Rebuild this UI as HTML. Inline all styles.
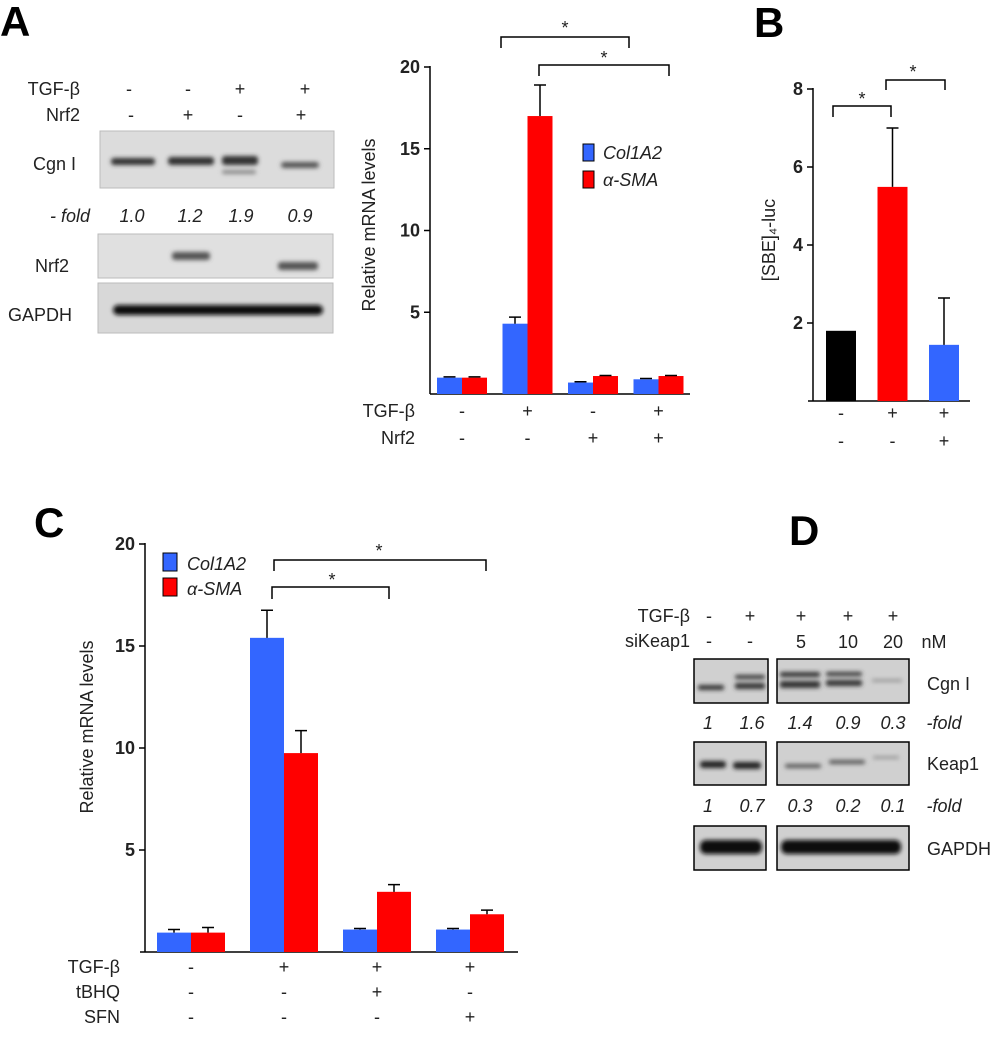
<!DOCTYPE html>
<html><head><meta charset="utf-8"><style>
html,body{margin:0;padding:0;background:#fff}
svg{display:block;font-family:"Liberation Sans",sans-serif}
.t{font-size:18px;fill:#222}
.tk{font-size:18px;font-weight:bold;fill:#222}
.pl{font-size:42px;font-weight:bold;fill:#000}
.it{font-style:italic}
</style></head><body>
<svg id="fig" width="999" height="1050" viewBox="0 0 999 1050">
<defs>
<filter id="bl" x="-20%" y="-50%" width="140%" height="200%"><feGaussianBlur stdDeviation="2"/></filter>
</defs>
<text class="pl" x="0" y="36">A</text>
<text class="pl" x="754" y="37">B</text>
<text class="pl" x="34" y="537">C</text>
<text class="pl" x="789" y="545">D</text>

<g>
<text class="t" x="80" y="95" text-anchor="end" font-size="19">TGF-β</text>
<text class="t" x="80" y="121" text-anchor="end" font-size="19">Nrf2</text>
<g class="t" font-size="19" text-anchor="middle">
<text x="129" y="95">-</text><text x="188" y="95">-</text><text x="240" y="95">+</text><text x="305" y="95">+</text>
<text x="131" y="121">-</text><text x="188" y="121">+</text><text x="240" y="121">-</text><text x="301" y="121">+</text>
</g>
<rect x="100" y="131" width="234" height="57" fill="#dcdcdc" stroke="#bbb"/>
<g filter="url(#bl)" fill="#333">
<rect x="111" y="158" width="44" height="7" rx="3"/>
<rect x="168" y="157" width="46" height="8" rx="3"/>
<rect x="222" y="156" width="36" height="9" rx="3"/>
<rect x="281" y="162" width="38" height="6" rx="3" fill="#555"/>
<rect x="222" y="170" width="34" height="4" rx="2" fill="#888"/>
</g>
<text class="t" x="33" y="170" font-size="20">Cgn I</text>
<g class="t it" font-size="18" text-anchor="middle">
<text x="70" y="222">- fold</text><text x="132" y="222">1.0</text><text x="190" y="222">1.2</text><text x="241" y="222">1.9</text><text x="300" y="222">0.9</text>
</g>
<rect x="98" y="234" width="235" height="44" fill="#e0e0e0" stroke="#bbb"/>
<g filter="url(#bl)" fill="#555">
<rect x="172" y="252" width="38" height="8" rx="3"/>
<rect x="278" y="262" width="40" height="8" rx="3"/>
</g>
<text class="t" x="35" y="272" font-size="20">Nrf2</text>
<rect x="98" y="283" width="235" height="50" fill="#d8d8d8" stroke="#bbb"/>
<rect x="113" y="305" width="210" height="10" rx="5" fill="#111" filter="url(#bl)"/>
<text class="t" x="8" y="321" font-size="20">GAPDH</text>
</g>

<g id="chartA">
<line x1="430" y1="66" x2="430" y2="394" stroke="#000" stroke-width="1.5"/>
<line x1="430" y1="394" x2="690" y2="394" stroke="#000" stroke-width="1.5"/>
<text class="t" transform="translate(375,225) rotate(-90)" text-anchor="middle" font-size="19">Relative mRNA levels</text>
<text class="t" x="415" y="417" text-anchor="end" font-size="19">TGF-β</text>
<text class="t" x="415" y="444" text-anchor="end" font-size="19">Nrf2</text>
<g>
<rect x="583" y="144" width="11" height="17" fill="#3366ff" stroke="#000"/>
<text class="t it" x="603" y="159" font-size="19">Col1A2</text>
<rect x="583" y="171" width="11" height="17" fill="#ff0000" stroke="#000"/>
<text class="t it" x="603" y="186" font-size="19">α-SMA</text>
</g>
<g stroke="#000" stroke-width="1.5" fill="none">
<path d="M501 48V37H629V48"/><path d="M539 76V65H669V76"/>
</g>
<text class="t" x="565" y="34" text-anchor="middle" font-size="22">*</text>
<text class="t" x="604" y="64" text-anchor="middle" font-size="22">*</text>
</g>

<g id="chartB">
<line x1="813" y1="88" x2="813" y2="401" stroke="#000" stroke-width="1.5"/>
<line x1="808" y1="401" x2="970" y2="401" stroke="#000" stroke-width="1.5"/>
<text class="t" transform="translate(775,240) rotate(-90)" text-anchor="middle" font-size="20">[SBE]₄-luc</text>
<g stroke="#000" stroke-width="1.5" fill="none">
<path d="M833 117V106H891V117"/><path d="M886 90V80H945V90"/>
</g>
<text class="t" x="862" y="105" text-anchor="middle" font-size="22">*</text>
<text class="t" x="913" y="78" text-anchor="middle" font-size="22">*</text>
</g>

<g id="chartC">
<line x1="145" y1="543" x2="145" y2="952" stroke="#000" stroke-width="1.5"/>
<line x1="140" y1="952" x2="518" y2="952" stroke="#000" stroke-width="1.5"/>
<text class="t" transform="translate(93,727) rotate(-90)" text-anchor="middle" font-size="20">Relative mRNA levels</text>
<text class="t" x="120" y="973" text-anchor="end" font-size="19">TGF-β</text>
<text class="t" x="120" y="998" text-anchor="end" font-size="19">tBHQ</text>
<text class="t" x="120" y="1023" text-anchor="end" font-size="19">SFN</text>
<g>
<rect x="163" y="553" width="14" height="18" fill="#3366ff" stroke="#000"/>
<text class="t it" x="187" y="570" font-size="20">Col1A2</text>
<rect x="163" y="578" width="14" height="18" fill="#ff0000" stroke="#000"/>
<text class="t it" x="187" y="595" font-size="20">α-SMA</text>
</g>
<g stroke="#000" stroke-width="1.5" fill="none">
<path d="M274 571V560H486V571"/><path d="M272 599V587H389V599"/>
</g>
<text class="t" x="379" y="557" text-anchor="middle" font-size="22">*</text>
<text class="t" x="332" y="586" text-anchor="middle" font-size="22">*</text>
</g>

<g>
<text class="t" x="690" y="622" text-anchor="end" font-size="19">TGF-β</text>
<text class="t" x="690" y="647" text-anchor="end" font-size="19">siKeap1</text>
<g class="t" font-size="19" text-anchor="middle">
<text x="709" y="622">-</text><text x="750" y="622">+</text><text x="801" y="622">+</text><text x="848" y="622">+</text><text x="893" y="622">+</text>
<text x="709" y="647">-</text><text x="750" y="647">-</text><text x="801" y="648">5</text><text x="848" y="648">10</text><text x="893" y="648">20</text>
<text x="934" y="648">nM</text>
</g>
<rect x="694" y="659" width="74" height="44" fill="#d0d0d0" stroke="#000" stroke-width="1.5"/>
<rect x="777" y="659" width="132" height="44" fill="#d0d0d0" stroke="#000" stroke-width="1.5"/>
<g filter="url(#bl)" fill="#333">
<rect x="698" y="685" width="26" height="5" rx="2"/>
<rect x="735" y="683" width="30" height="6" rx="2"/><rect x="735" y="675" width="30" height="4" rx="2"/>
<rect x="780" y="681" width="40" height="7" rx="2"/><rect x="780" y="672" width="40" height="5" rx="2"/>
<rect x="826" y="680" width="36" height="6" rx="2"/><rect x="826" y="672" width="36" height="4" rx="2"/>
<rect x="872" y="679" width="30" height="3" rx="1" fill="#999"/>
</g>
<text class="t" x="927" y="690" font-size="20">Cgn I</text>
<g class="t it" font-size="18" text-anchor="middle">
<text x="708" y="729">1</text><text x="752" y="729">1.6</text><text x="800" y="729">1.4</text><text x="848" y="729">0.9</text><text x="893" y="729">0.3</text><text x="944" y="729">-fold</text>
<text x="708" y="812">1</text><text x="752" y="812">0.7</text><text x="800" y="812">0.3</text><text x="848" y="812">0.2</text><text x="893" y="812">0.1</text><text x="944" y="812">-fold</text>
</g>
<rect x="694" y="742" width="72" height="43" fill="#d0d0d0" stroke="#000" stroke-width="1.5"/>
<rect x="777" y="742" width="132" height="43" fill="#d0d0d0" stroke="#000" stroke-width="1.5"/>
<g filter="url(#bl)" fill="#222">
<rect x="700" y="761" width="26" height="7" rx="3"/><rect x="733" y="762" width="28" height="7" rx="3"/>
<rect x="785" y="764" width="36" height="4" rx="2" fill="#555"/><rect x="829" y="760" width="36" height="4" rx="2" fill="#555"/>
<rect x="873" y="756" width="26" height="3" rx="1" fill="#999"/>
</g>
<text class="t" x="927" y="770" font-size="20">Keap1</text>
<rect x="694" y="826" width="72" height="44" fill="#d0d0d0" stroke="#000" stroke-width="1.5"/>
<rect x="777" y="826" width="132" height="44" fill="#d0d0d0" stroke="#000" stroke-width="1.5"/>
<rect x="700" y="840" width="62" height="14" rx="6" fill="#111" filter="url(#bl)"/>
<rect x="781" y="840" width="120" height="14" rx="6" fill="#111" filter="url(#bl)"/>
<text class="t" x="927" y="855" font-size="20">GAPDH</text>
</g>
</svg>
<script>
const NS='http://www.w3.org/2000/svg';
const catsA=['ctrl','TGF','Nrf2','TGF+Nrf2'];
const colA=[1.0,4.3,0.7,0.9];
const smaA=[1.0,17.0,1.1,1.1];
const colErrA=[0.05,0.4,0.05,0.05];
const smaErrA=[0.05,1.9,0.03,0.03];
const tgfA=['-','+','-','+'];
const nrfA=['-','-','+','+'];
const ticksA=[5,10,15,20];
const catsB=['ctrl','TGF','TGF+Nrf2'];
const valsB=[1.8,5.49,1.44];
const errB=[0,1.51,1.2];
const row1B=['-','+','+'];
const row2B=['-','-','+'];
const ticksB=[2,4,6,8];
const catsC=['ctrl','TGF','TGF+tBHQ','TGF+SFN'];
const colC=[0.95,15.4,1.1,1.1];
const smaC=[0.95,9.75,2.95,1.85];
const colErrC=[0.15,1.35,0.05,0.05];
const smaErrC=[0.25,1.1,0.35,0.2];
const tgfC=['-','+','+','+'];
const tbhqC=['-','-','+','-'];
const sfnC=['-','-','-','+'];
const ticksC=[5,10,15,20];

function mk(tag,attrs,parent,txt){const e=document.createElementNS(NS,tag);for(const k in attrs)e.setAttribute(k,attrs[k]);if(txt!==undefined)e.textContent=txt;parent.appendChild(e);return e;}
function errbar(g,x,y0,y1){
  const l=mk('path',{d:`M${x} ${y0}V${y1}M${x-6} ${y1}H${x+6}`,stroke:'#000','stroke-width':1.5,fill:'none'},g);
  
  
}
function bar(g,x,y,w,h,fill,name){
  const r=mk('rect',{x:x,y:y,width:w,height:h,fill:fill},g);
  
  
}
function ticks(g,axX,yf,tks){
  tks.forEach(t=>{
    mk('line',{x1:axX-6,x2:axX,y1:yf(t),y2:yf(t),stroke:'#000','stroke-width':1.5},g);
    const tx=mk('text',{x:axX-10,y:yf(t)+6,'text-anchor':'end','class':'tk'},g,String(t));
    
    
  });
}
(function(){
  const g=document.getElementById('chartA');
  const y=v=>394-v*16.35, gx=i=>437+i*65.5, w=25;
  ticks(g,430,y,ticksA);
  catsA.forEach((c,i)=>{
    bar(g,gx(i),y(colA[i]),w,394-y(colA[i]),'#3366ff','bar-col1a2-'+i);
    bar(g,gx(i)+w,y(smaA[i]),w,394-y(smaA[i]),'#ff0000','bar-asma-'+i);
    errbar(g,gx(i)+w/2,y(colA[i]),y(colA[i]+colErrA[i]));
    errbar(g,gx(i)+w*1.5,y(smaA[i]),y(smaA[i]+smaErrA[i]));
    mk('text',{x:gx(i)+w,y:417,'text-anchor':'middle','class':'t','font-size':19},g,tgfA[i]);
    mk('text',{x:gx(i)+w,y:444,'text-anchor':'middle','class':'t','font-size':19},g,nrfA[i]);
  });
})();
(function(){
  const g=document.getElementById('chartB');
  const y=v=>401-v*39, gx=i=>826+i*51.5, w=30, cols=['#000','#ff0000','#3366ff'];
  ticks(g,813,y,ticksB);
  catsB.forEach((c,i)=>{
    bar(g,gx(i),y(valsB[i]),w,401-y(valsB[i]),cols[i],'bar-b-'+i);
    if(errB[i]>0)errbar(g,gx(i)+w/2,y(valsB[i]),y(valsB[i]+errB[i]));
    mk('text',{x:gx(i)+w/2,y:419,'text-anchor':'middle','class':'t','font-size':19},g,row1B[i]);
    mk('text',{x:gx(i)+w/2,y:447,'text-anchor':'middle','class':'t','font-size':19},g,row2B[i]);
  });
})();
(function(){
  const g=document.getElementById('chartC');
  const y=v=>952-v*20.4, gx=i=>157+i*93, w=34;
  ticks(g,145,y,ticksC);
  catsC.forEach((c,i)=>{
    bar(g,gx(i),y(colC[i]),w,952-y(colC[i]),'#3366ff','bar-col1a2-c-'+i);
    bar(g,gx(i)+w,y(smaC[i]),w,952-y(smaC[i]),'#ff0000','bar-asma-c-'+i);
    errbar(g,gx(i)+w/2,y(colC[i]),y(colC[i]+colErrC[i]));
    errbar(g,gx(i)+w*1.5,y(smaC[i]),y(smaC[i]+smaErrC[i]));
    mk('text',{x:gx(i)+w,y:973,'text-anchor':'middle','class':'t','font-size':19},g,tgfC[i]);
    mk('text',{x:gx(i)+w,y:998,'text-anchor':'middle','class':'t','font-size':19},g,tbhqC[i]);
    mk('text',{x:gx(i)+w,y:1023,'text-anchor':'middle','class':'t','font-size':19},g,sfnC[i]);
  });
})();
</script>
</body></html>
